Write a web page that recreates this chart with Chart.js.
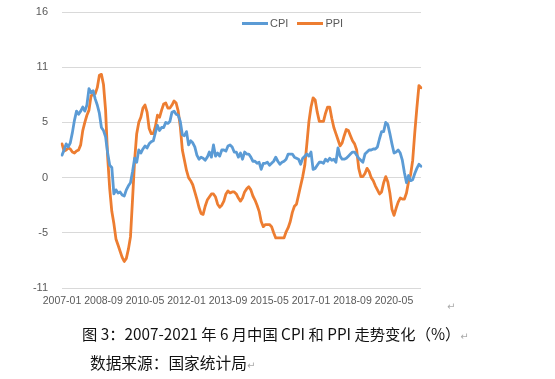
<!DOCTYPE html>
<html>
<head>
<meta charset="utf-8">
<script src="https://cdn.jsdelivr.net/npm/chart.js@4.4.1/dist/chart.umd.min.js"></script>
<style>
  body { margin: 0; width: 555px; height: 379px; background: #fff; position: relative; overflow: hidden; }
  #chart { position: absolute; left: 0; top: 0; }
  .legend { position: absolute; top: 17px; left: 242px; font: 11px "Liberation Sans", Arial, sans-serif; color: #595959; white-space: nowrap; }
  .legend span.sw { display: inline-block; width: 26px; height: 3px; vertical-align: middle; margin-right: 2px; position: relative; top: -1px; }
  .legend span.item { margin-right: 6px; }
  .cap { position: absolute; font-family: "Noto Sans CJK SC", sans-serif; color: #111; white-space: nowrap; }
  .mark { color: #aaa; font-size: 10px; font-family: "DejaVu Sans", sans-serif; }
</style>
</head>
<body>
<canvas id="chart" width="555" height="315"></canvas>
<div class="legend">
  <span class="item"><span class="sw" style="background:#5B9BD5"></span>CPI</span>
  <span class="item"><span class="sw" style="background:#ED7D31"></span>PPI</span>
</div>
<span class="cap mark" style="left:447px;top:301px;">↵</span>
<div class="cap" style="left:82px;top:322px;font-size:15.3px;">图 3：2007-2021 年 6 月中国 CPI 和 PPI 走势变化（%）<span class="mark">↵</span></div>
<div class="cap" style="left:90px;top:351px;font-size:15.7px;">数据来源：国家统计局<span class="mark">↵</span></div>
<script>
// monthly categories 2007-01 .. 2021-06
const months = [];
for (let y = 2007; y <= 2021; y++) {
  for (let m = 1; m <= 12; m++) {
    if (y === 2021 && m > 6) break;
    months.push(y + '-' + String(m).padStart(2, '0'));
  }
}

// x tick labels shown on the axis
const tickLabels = ['2007-01', '2008-09', '2010-05', '2012-01', '2013-09', '2015-05', '2017-01', '2018-09', '2020-05'];
// y ticks (displayed rounded)
const yTicks = [-10.8, -5.4, 0, 5.4, 10.8, 16.2];

// CPI YoY %
const cpi = [
  2.2, 2.7, 3.3, 3.0, 3.4, 4.4, 5.6, 6.5, 6.2, 6.5, 6.9, 6.5,
  7.1, 8.7, 8.3, 8.5, 7.7, 7.1, 6.3, 4.9, 4.6, 4.0, 2.4, 1.2,
  1.0, -1.6, -1.2, -1.5, -1.4, -1.7, -1.8, -1.2, -0.8, -0.5, 0.6, 1.9,
  1.5, 2.7, 2.4, 2.8, 3.1, 2.9, 3.3, 3.5, 3.6, 4.4, 5.1, 4.6,
  4.9, 4.9, 5.4, 5.3, 5.5, 6.4, 6.5, 6.2, 6.1, 5.5, 4.2, 4.1,
  4.5, 3.2, 3.6, 3.4, 3.0, 2.2, 1.8, 2.0, 1.9, 1.7, 2.0, 2.5,
  2.0, 3.2, 2.1, 2.4, 2.1, 2.7, 2.7, 2.6, 3.1, 3.2, 3.0, 2.5,
  2.5, 2.0, 2.4, 1.8, 2.5, 2.3, 2.3, 2.0, 1.6, 1.6, 1.4, 1.5,
  0.8, 1.4, 1.4, 1.5, 1.2, 1.4, 1.6, 2.0, 1.6, 1.3, 1.5, 1.6,
  1.8, 2.3, 2.3, 2.3, 2.0, 1.9, 1.8, 1.3, 1.9, 2.1, 2.3, 2.1,
  2.5, 0.8, 0.9, 1.2, 1.5, 1.5, 1.4, 1.8, 1.6, 1.9, 1.7, 1.8,
  1.5, 2.9, 2.1, 1.8, 1.8, 1.9, 2.1, 2.3, 2.5, 2.5, 2.2, 1.9,
  1.7, 1.5, 2.3, 2.5, 2.7, 2.7, 2.8, 2.8, 3.0, 3.8, 4.5, 4.5,
  5.4, 5.2, 4.3, 3.3, 2.4, 2.5, 2.7, 2.4, 1.7, 0.5, -0.5, 0.2,
  -0.3, -0.2, 0.4, 0.9, 1.3, 1.1
];

// PPI YoY %
const ppi = [
  3.3, 2.6, 2.7, 2.9, 2.8, 2.5, 2.4, 2.6, 2.7, 3.2, 4.6, 5.4,
  6.1, 6.6, 8.0, 8.1, 8.2, 8.8, 10.0, 10.1, 9.1, 6.6, 2.0, -1.1,
  -3.3, -4.5, -6.0, -6.6, -7.2, -7.8, -8.2, -7.9, -7.0, -5.8, -2.1, 1.7,
  4.3, 5.4, 5.9, 6.8, 7.1, 6.4, 4.8, 4.3, 4.3, 5.0, 6.1, 5.9,
  6.6, 7.2, 7.3, 6.8, 6.8, 7.1, 7.5, 7.3, 6.5, 5.0, 2.7, 1.7,
  0.7, 0.0, -0.3, -0.7, -1.4, -2.1, -2.9, -3.5, -3.6, -2.8, -2.2, -1.9,
  -1.6, -1.6, -1.9, -2.6, -2.9, -2.7, -2.3, -1.6, -1.3, -1.5, -1.4, -1.4,
  -1.6, -2.0, -2.3, -2.0, -1.4, -1.1, -0.9, -1.2, -1.8, -2.2, -2.7, -3.3,
  -4.3, -4.8, -4.6, -4.6, -4.6, -4.8, -5.4, -5.9, -5.9, -5.9, -5.9, -5.9,
  -5.3, -4.9, -4.3, -3.4, -2.8, -2.6, -1.7, -0.8, 0.1, 1.2, 3.3, 5.5,
  6.9, 7.8, 7.6, 6.4, 5.5, 5.5, 5.5, 6.3, 6.9, 6.9, 5.8, 4.9,
  4.3, 3.7, 3.1, 3.4, 4.1, 4.7, 4.6, 4.1, 3.6, 3.3, 2.7, 0.9,
  0.1, 0.1, 0.4, 0.9, 0.6, 0.0, -0.3, -0.8, -1.2, -1.6, -1.4, -0.5,
  0.1, -0.4, -1.5, -3.1, -3.7, -3.0, -2.4, -2.0, -2.1, -2.1, -1.5, -0.4,
  0.3, 1.7, 4.4, 6.8, 9.0, 8.8
];

const tickFont = { family: '"Liberation Sans", Arial, sans-serif', size: 10.5 };

new Chart(document.getElementById('chart'), {
  type: 'line',
  data: {
    labels: months,
    datasets: [
      { label: 'CPI', data: cpi, borderColor: '#5B9BD5', borderWidth: 2.8 },
      { label: 'PPI', data: ppi, borderColor: '#ED7D31', borderWidth: 2.8 }
    ]
  },
  options: {
    responsive: false,
    animation: false,
    devicePixelRatio: 1,
    layout: { padding: { left: 0, right: 134, top: 12, bottom: 0 } },
    elements: {
      point: { radius: 0 },
      line: { tension: 0, borderJoinStyle: 'round', borderCapStyle: 'round' }
    },
    scales: {
      x: {
        type: 'category',
        offset: false,
        grid: { display: false, drawTicks: false },
        border: { display: false },
        afterBuildTicks: s => { s.ticks = s.ticks.filter(t => tickLabels.includes(months[t.value])); },
        afterFit: s => { s.height = 27; s.paddingLeft = 0; s.paddingRight = 0; },
        ticks: {
          autoSkip: false, maxRotation: 0, minRotation: 0, padding: 7,
          color: '#595959', font: tickFont,
          callback: function (v) { return months[v]; }
        }
      },
      y: {
        min: -10.8,
        max: 16.2,
        afterBuildTicks: s => { s.ticks = yTicks.map(v => ({ value: v })); },
        afterFit: s => { s.width = 62; s.paddingTop = 0; s.paddingBottom = 0; },
        grid: { color: '#D9D9D9', lineWidth: 1, drawTicks: false },
        border: { display: false },
        ticks: {
          padding: 14, color: '#595959', font: { ...tickFont, size: 11 },
          callback: v => Math.round(v)
        }
      }
    },
    plugins: {
      legend: { display: false },
      tooltip: { enabled: false }
    }
  }
});
</script>
</body>
</html>
